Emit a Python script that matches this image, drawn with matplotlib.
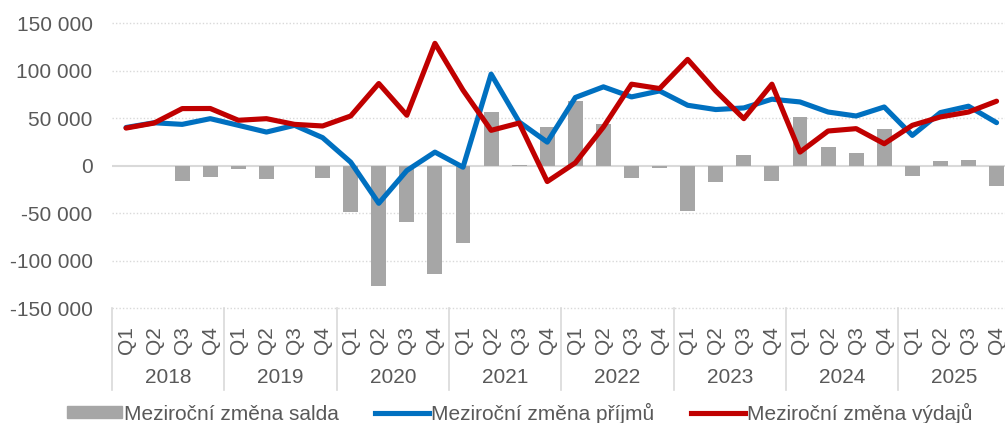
import numpy as np
import matplotlib
matplotlib.use("Agg")
from matplotlib import pyplot as plt
from matplotlib.patches import Patch
from matplotlib.lines import Line2D
from matplotlib.ticker import FuncFormatter
import matplotlib.transforms as mtransforms

years = ["2018", "2019", "2020", "2021", "2022", "2023", "2024", "2025"]
quarters = ["Q1", "Q2", "Q3", "Q4"]

# mezirocni zmeny
saldo = [0, 0, -16600, -11600,
         -3900, -14500, -1000, -13400,
         -48600, -126800, -59900, -113800,
         -81700, 56300, 500, 40500,
         67700, 43300, -13400, -2500,
         -48300, -17600, 10600, -16200,
         51100, 19300, 13400, 38100,
         -11300, 5000, 5600, -21500]
prijmy = [40000, 45000, 43300, 49300,
          42300, 35200, 42300, 29300,
          3500, -39800, -5300, 14100,
          -1800, 96200, 45800, 24600,
          71600, 82800, 72200, 78500,
          63400, 58900, 60600, 69800,
          66900, 56300, 52100, 61600,
          31700, 55700, 62400, 45100]
vydaje = [39400, 44700, 59900, 60000,
          47600, 49300, 43300, 41600,
          52100, 86300, 52900, 128600,
          79300, 37000, 44700, -16900,
          2800, 40500, 85600, 81000,
          111700, 78500, 49300, 85600,
          14100, 36300, 38800, 22900,
          42300, 51100, 56300, 67700]

labels = ["Meziroční změna salda", "Meziroční změna příjmů", "Meziroční změna výdajů"]

plt.rcParams['font.family'] = ['Liberation Sans', 'DejaVu Sans']
txt = "#595959"
grey = "#a6a6a6"
blue = "#0070c0"
red = "#c00000"
gridc = "#d9d9d9"

W, H = 1005, 423
fig = plt.figure(figsize=(W / 100, H / 100), dpi=100)
left, right, top, bottom = 112, 1010.6, 23, 308
ax = fig.add_axes([left / W, 1 - bottom / H, (right - left) / W, (bottom - top) / H])

x = np.arange(len(saldo))
ax.bar(x, saldo, width=0.53, color=grey, zorder=2)
ax.plot(x, prijmy, color=blue, lw=3.7, zorder=3, solid_capstyle='round')
ax.plot(x, vydaje, color=red, lw=3.7, zorder=4, solid_capstyle='round')

ax.set_xlim(-0.5, len(saldo) - 0.5)
ax.set_ylim(-150000, 150000)
yt = np.arange(-150000, 150001, 50000)
ax.set_yticks(yt)
ax.yaxis.set_major_formatter(FuncFormatter(lambda v, p: "{:,.0f}".format(v).replace(",", " ")))
for v in yt:
    if v == 0:
        ax.axhline(0, color=gridc, lw=1.5, zorder=1)
    else:
        ax.axhline(v, color=gridc, lw=1, ls=(0, (1, 1.5)), zorder=1, clip_on=False)

for s in ax.spines.values():
    s.set_visible(False)

ax.set_xticks(x)
ax.set_xticklabels(quarters * len(years), rotation=90, va='top', ha='center')
ax.tick_params(axis='x', length=0, pad=13, labelsize=15, colors=txt)
ax.tick_params(axis='y', length=0, pad=14, labelsize=15, colors=txt)

trans = mtransforms.blended_transform_factory(ax.transData, ax.transAxes)
h = bottom - top
for i, yr in enumerate(years):
    ax.text(i * 4 + 1.5, -(377 - bottom) / h, yr, transform=trans, ha='center', va='center',
            fontsize=15, color=txt)
for i in range(len(years) + 1):
    ax.plot([i * 4 - 0.5, i * 4 - 0.5], [0, -(390 - bottom) / h], transform=trans,
            color=gridc, lw=1.2, clip_on=False)

handles = [Patch(color=grey), Line2D([], [], color=blue, lw=3.7), Line2D([], [], color=red, lw=3.7)]
leg = fig.legend(handles, labels, loc='center', bbox_to_anchor=(520 / W, 1 - 413 / H), ncol=3,
                 frameon=False, fontsize=15, handlelength=2.6, handleheight=0.5,
                 handletextpad=0.1, columnspacing=1.75, borderaxespad=0)
for t in leg.get_texts():
    t.set_color(txt)

fig.savefig("out.png", dpi=100)
